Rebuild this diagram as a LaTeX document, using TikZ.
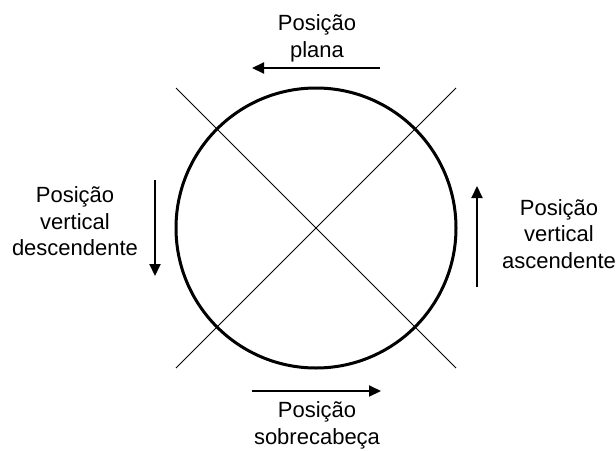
\documentclass[tikz,border=0pt]{standalone}
\usepackage{fontspec}
\setmainfont{Liberation Sans}
\usetikzlibrary{arrows.meta}
\tikzset{
  lbl/.style={align=center, inner sep=0pt, font=\fontsize{22}{26.5}\selectfont},
  dir/.style={line width=2pt, -{Triangle[length=12pt,width=11pt]}},
  diag/.style={line width=0.9pt},
  wheel/.style={circle, draw, line width=3pt, minimum size=280pt, inner sep=0pt}
}
\begin{document}
\begin{tikzpicture}[x=1pt,y=-1pt]
\useasboundingbox (0,0) rectangle (616,450);
\node[wheel] (c) at (316,228) {};
\coordinate (tl) at (176,88);
\coordinate (tr) at (456,88);
\coordinate (bl) at (176,368);
\coordinate (br) at (456,368);
\draw[diag] (tl) -- (br);
\draw[diag] (tr) -- (bl);
% top
\node[lbl] (ttop) at (317,38.5) {Posição\\plana};
\coordinate (a1s) at (380,68);
\coordinate (a1e) at (252,68);
\draw[dir] (a1s) -- (a1e);
% left
\node[lbl] (tleft) at (75,221.5) {Posição\\vertical\\descendente};
\coordinate (a2s) at (155,180);
\coordinate (a2e) at (155,276);
\draw[dir] (a2s) -- (a2e);
% right
\node[lbl] (tright) at (559,234) {Posição\\vertical\\ascendente};
\coordinate (a3s) at (477,287);
\coordinate (a3e) at (477,186);
\draw[dir] (a3s) -- (a3e);
% bottom
\node[lbl] (tbot) at (317,425.5) {Posição\\sobrecabeça};
\coordinate (a4s) at (252,391);
\coordinate (a4e) at (381,391);
\draw[dir] (a4s) -- (a4e);
\end{tikzpicture}
\end{document}
